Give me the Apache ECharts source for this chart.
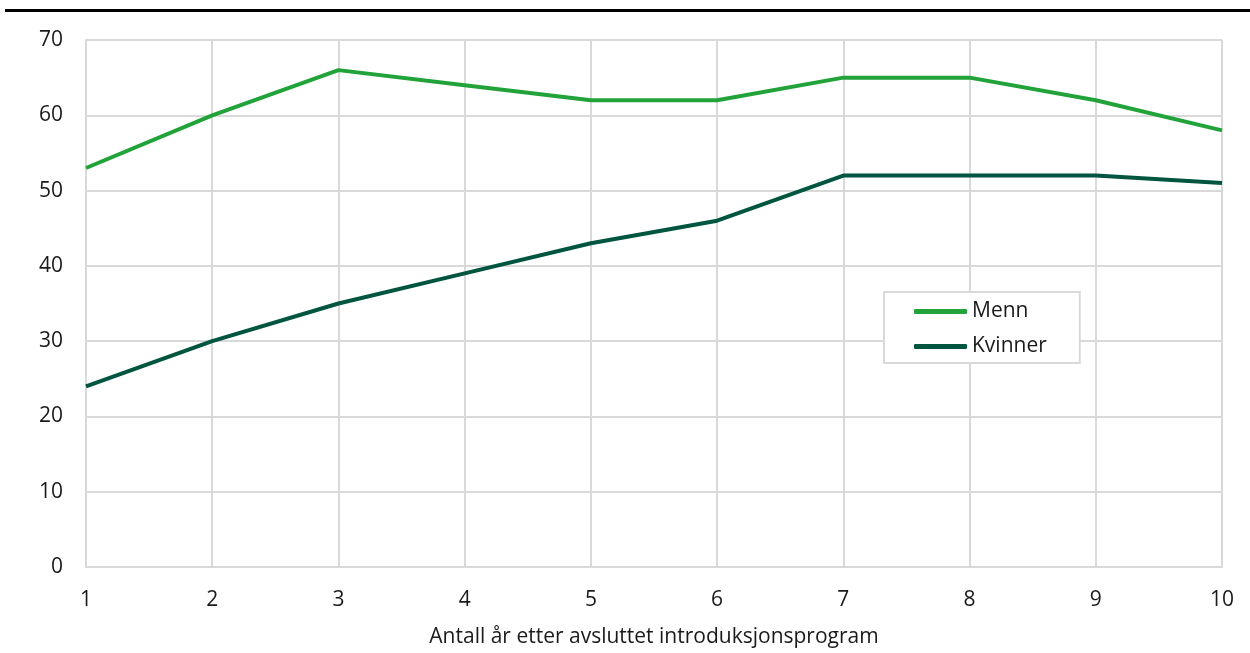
<!DOCTYPE html>
<html>
<head>
<meta charset="utf-8">
<script src="https://cdn.jsdelivr.net/npm/echarts@6/dist/echarts.min.js"></script>
<style>html,body{margin:0;padding:0;background:#fff;}#c{width:1250px;height:653px;}</style>
</head>
<body>
<div id="c"></div>
<script>
const categories = ['1','2','3','4','5','6','7','8','9','10'];
const menn = [53, 60, 66, 64, 62, 62, 65, 65, 62, 58];
const kvinner = [24, 30, 35, 39, 43, 46, 52, 52, 52, 51];
const seriesNames = ['Menn', 'Kvinner'];
const xAxisTitle = 'Antall år etter avsluttet introduksjonsprogram';

const chart = echarts.init(document.getElementById('c'), null, {renderer: 'canvas'});
const font = '"Open Sans", "Noto Sans", sans-serif';
chart.setOption({
  animation: false,
  backgroundColor: '#ffffff',
  textStyle: {fontFamily: font},
  graphic: [{
    type: 'rect',
    shape: {x: 5, y: 9, width: 1245, height: 3},
    style: {fill: '#000000'}
  }],
  grid: {left: 86, right: 28, top: 40, bottom: 84, containLabel: false},
  legend: {
    orient: 'vertical',
    left: 884, top: 292,
    padding: [9, 33, 6, 30],
    borderColor: '#d9d9d9', borderWidth: 2,
    backgroundColor: '#ffffff',
    icon: 'roundRect',
    itemWidth: 53, itemHeight: 5, itemGap: 14,
    textStyle: {fontFamily: font, fontSize: 21, color: '#1a1a1a', lineHeight: 21},
    data: seriesNames
  },
  xAxis: {
    type: 'category',
    data: categories,
    boundaryGap: false,
    name: xAxisTitle,
    nameLocation: 'middle',
    nameGap: 60,
    nameTextStyle: {fontFamily: font, fontSize: 21, color: '#1a1a1a'},
    axisLine: {show: true, lineStyle: {color: '#d9d9d9', width: 2}},
    axisTick: {show: false},
    axisLabel: {fontFamily: font, fontSize: 21, color: '#1a1a1a', margin: 23},
    splitLine: {show: true, lineStyle: {color: '#d9d9d9', width: 2}}
  },
  yAxis: {
    type: 'value',
    min: 0, max: 70, interval: 10,
    axisLine: {show: true, lineStyle: {color: '#d9d9d9', width: 2}},
    axisTick: {show: false},
    axisLabel: {fontFamily: font, fontSize: 21, color: '#1a1a1a', margin: 23},
    splitLine: {show: true, lineStyle: {color: '#d9d9d9', width: 2}}
  },
  series: [
    {name: seriesNames[0], type: 'line', data: menn, symbol: 'none',
     lineStyle: {color: '#22a33a', width: 4}, itemStyle: {color: '#22a33a'}},
    {name: seriesNames[1], type: 'line', data: kvinner, symbol: 'none',
     lineStyle: {color: '#005540', width: 4}, itemStyle: {color: '#005540'}}
  ]
});
</script>
</body>
</html>
